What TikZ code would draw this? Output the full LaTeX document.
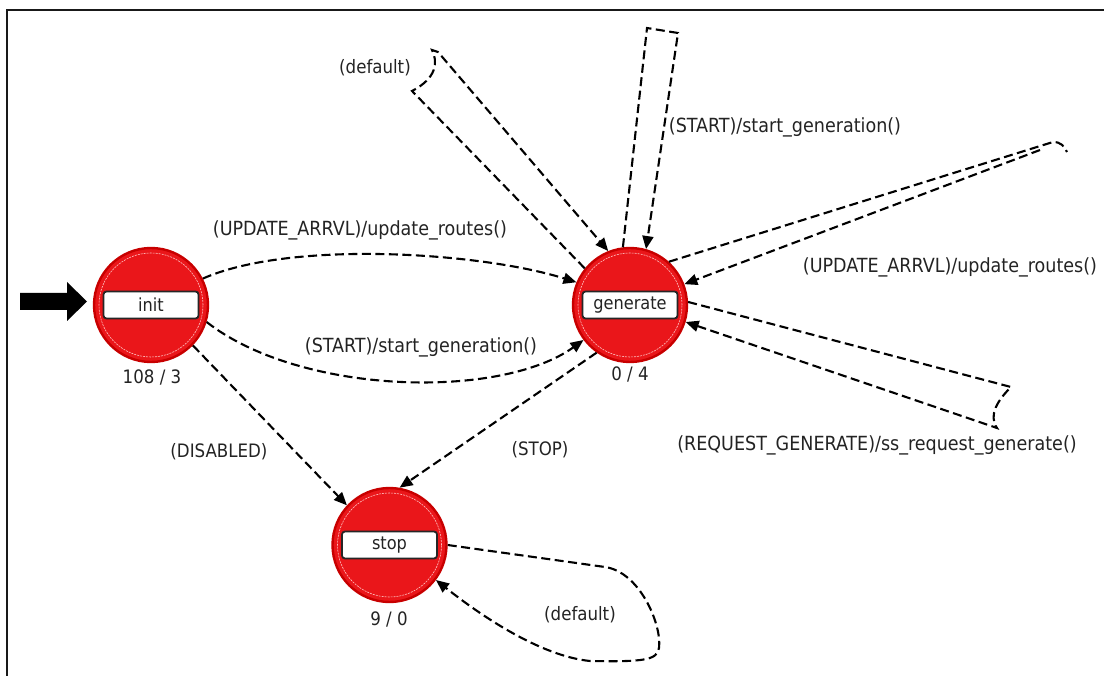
\documentclass[tikz,border=0pt]{standalone}
\usepackage{fontspec}
\newfontfamily\lblfont{DejaVu Sans Condensed}
\usetikzlibrary{arrows.meta}
\definecolor{statefill}{RGB}{234,22,26}
\definecolor{staterim}{RGB}{200,0,0}
\definecolor{txt}{RGB}{35,35,35}
\begin{document}
\begin{tikzpicture}[x=1pt,y=-1pt,
  state/.style={circle, fill=statefill, draw=staterim, line width=2.4pt, minimum size=114pt, inner sep=0pt},
  ring/.style={draw=white!75!red, line width=0.6pt, dash pattern=on 2pt off 1pt},
  namebox/.style={rectangle, rounded corners=3pt, fill=white, draw=black!85, line width=1.8pt,
    minimum width=95pt, minimum height=27pt, inner sep=0pt, font=\lblfont\fontsize{18}{20}\selectfont, text=txt},
  count/.style={font=\lblfont\fontsize{18.5}{20}\selectfont, text=txt, inner sep=0pt},
  lbl/.style={font=\lblfont\fontsize{18.5}{21}\selectfont, text=txt, inner sep=0pt},
  longlbl/.style={lbl, font=\lblfont\fontsize{19.5}{22}\selectfont},
  trans/.style={draw=black, line width=2.1pt, dash pattern=on 9pt off 4.5pt,
    -{Triangle[length=13pt,width=11pt]}},
]
\useasboundingbox (0,0) rectangle (1104,676);
% frame
\draw[line width=2pt, black!90] (7,676) -- (7,10) -- (1104,10);

% states
\node[state] (init) at (151,305) {};
\node[state] (gen) at (630,305) {};
\node[state] (stop) at (389.5,545) {};
\foreach \s in {init,gen,stop}
  \draw[ring] (\s) circle[radius=52pt];
\node[namebox] (initbox) at (init) {init};
\node[namebox] (genbox) at (gen) {generate};
\node[namebox] (stopbox) at (stop) {stop};
\node[count] (initcount) at (152,377) {108 / 3};
\node[count] (gencount) at (630,374) {0 / 4};
\node[count] (stopcount) at (389,619) {9 / 0};

% initial-state marker
\fill[black] (20,293) -- (67,293) -- (67,282) -- (87,301.5) -- (67,321) -- (67,310) -- (20,310) -- cycle;

% transitions
\draw[trans] (init.27) .. controls (290,240) and (480,252) .. (gen.157);
\draw[trans] (init.-17) .. controls (300,395) and (500,400) .. (gen.217);
\draw[trans] (init.-44) -- (stop.137);
\draw[trans] (gen.235) -- (stop.80);

% self loops on generate
\draw[trans] (gen.141) -- (412,91) .. controls (437,78) and (438,62) .. (432,50) -- (438,52) -- (gen.112);
\draw[trans] (gen.97) -- (647,28) -- (678,33) -- (gen.74);
\draw[trans] (gen.48) -- (1053,142) .. controls (1061,142) and (1064,146) .. (1067,152) (1040,150) -- (gen.21);
\draw[trans] (gen.3) -- (1011,387) .. controls (998,400) and (988,415) .. (997,428) -- (gen.-17);

% self loop on stop
\draw[trans] (stop.0) -- (605,567) .. controls (640,572) and (662,625) .. (659,648)
  .. controls (657,660) and (645,662) .. (590,661) .. controls (540,656) and (480,615) .. (stop.-37);

% transition labels
\node[longlbl] (l1) at (360,230) {(UPDATE\_ARRVL)/update\_routes()};
\node[longlbl] (l2) at (421,347) {(START)/start\_generation()};
\node[lbl] (l3) at (219,452) {(DISABLED)};
\node[lbl] (l4) at (540,450) {(STOP)};
\node[lbl] (l5) at (375,68) {(default)};
\node[longlbl] (l6) at (785,127) {(START)/start\_generation()};
\node[longlbl] (l7) at (950,267) {(UPDATE\_ARRVL)/update\_routes()};
\node[longlbl] (l8) at (877,445) {(REQUEST\_GENERATE)/ss\_request\_generate()};
\node[lbl] (l9) at (580,615) {(default)};
\end{tikzpicture}
\end{document}
